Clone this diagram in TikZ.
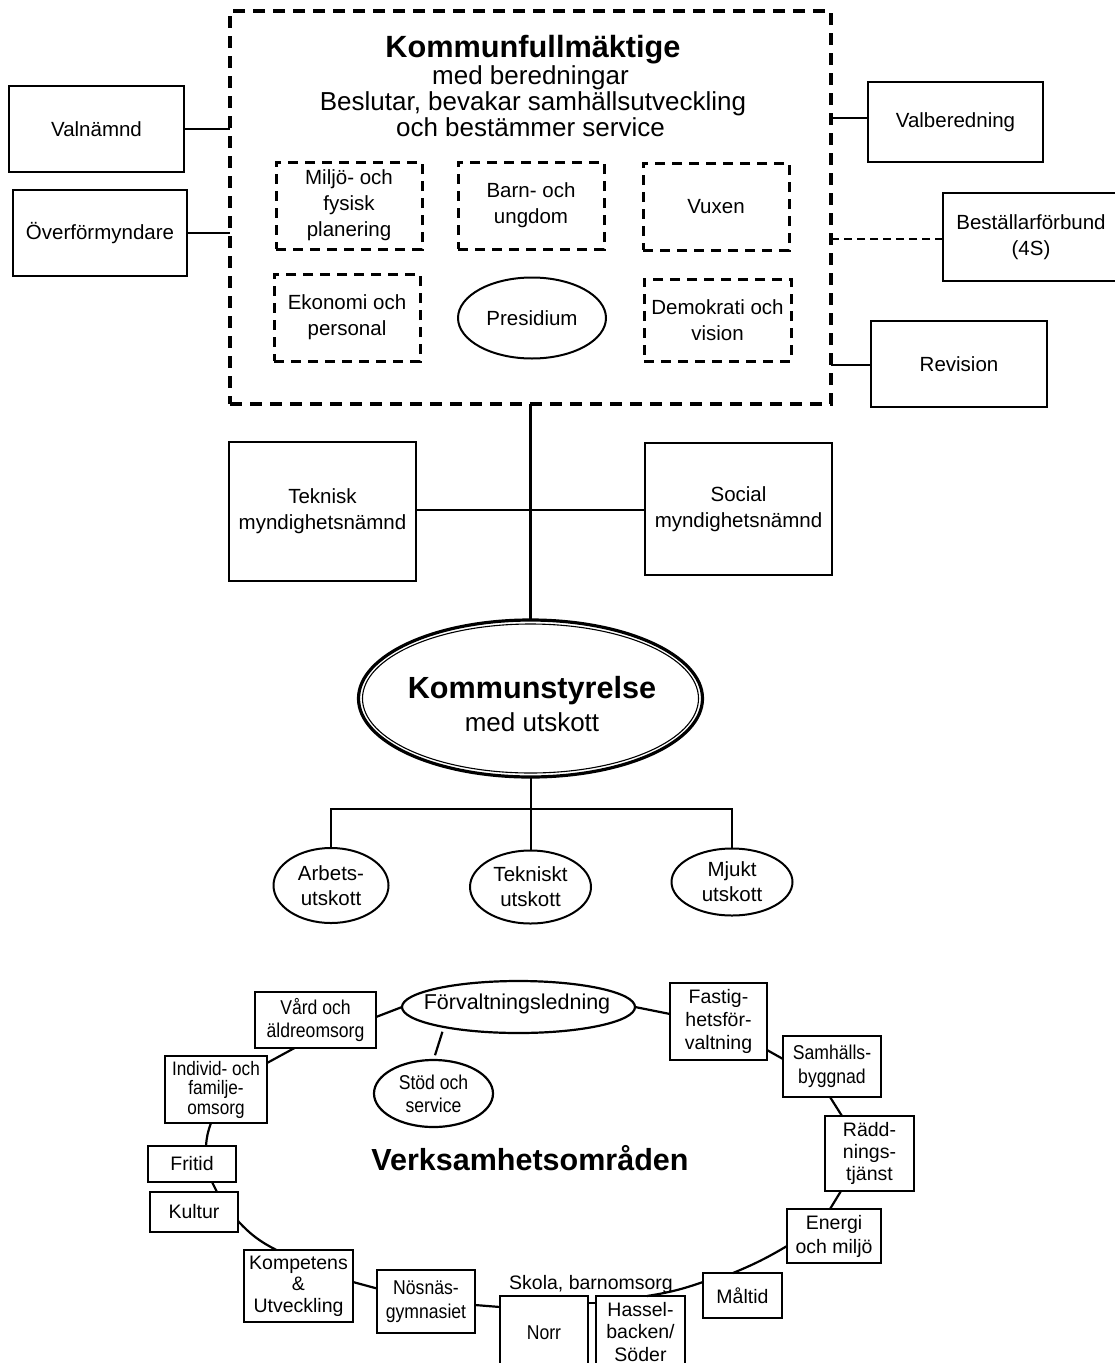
\documentclass[tikz,border=0pt]{standalone}
\usepackage{fontspec}
\setmainfont{Liberation Sans}
\newfontfamily\narrowfont[FakeStretch=0.88]{Liberation Sans}
\usetikzlibrary{shapes.geometric,calc}
\newcommand\myfs[2]{\fontsize{#1}{#2}\selectfont}
\begin{document}
\begin{tikzpicture}[x=1pt,y=-1pt,
  every node/.style={inner sep=0pt, outer sep=0pt},
  box/.style={draw, line width=2pt, rectangle, align=center, font=\myfs{20.5}{26}},
  dbox/.style={draw, line width=3pt, dash pattern=on 10pt off 7pt, rectangle, align=center, font=\myfs{20.5}{26}},
  oval/.style={draw, line width=2pt, ellipse, align=center, font=\myfs{20.5}{25}},
  sbox/.style={draw, line width=2.2pt, rectangle, align=center, font=\myfs{19.5}{22.5}},
  nbox/.style={draw, line width=2.2pt, rectangle, align=center, font=\narrowfont\myfs{20}{23}},
  conn/.style={line width=2.2pt},
  bigdash/.style={draw, line width=4pt, dash pattern=on 12pt off 8pt},
]
\fill[white] (0,0) rectangle (1115,1363);
\useasboundingbox (0,0) rectangle (1115,1363);

% ---------- Kommunfullmaktige ----------
\node[bigdash, rectangle, minimum width=601pt, minimum height=393pt] (main) at (530.5,207.5) {};
\node[anchor=mid, font=\myfs{30.7}{30}\bfseries] (kt1) at (533,55) {Kommunfullmäktige};
\node[anchor=mid, font=\myfs{26}{27}] (kt2) at (530.5,82) {med beredningar};
\node[anchor=mid, font=\myfs{26}{27}] (kt3) at (533,108) {Beslutar, bevakar samhällsutveckling};
\node[anchor=mid, font=\myfs{26}{27}] (kt4) at (530.5,134) {och bestämmer service};

\node[dbox, minimum width=146pt, minimum height=87pt] (miljo) at (349,205.5) {Miljö- och\\fysisk\\planering};
\node[dbox, minimum width=146pt, minimum height=87pt] (barn) at (531,205.5) {Barn- och\\ungdom};
\node[dbox, minimum width=146pt, minimum height=87pt] (vuxen) at (716,206.5) {Vuxen};
\node[dbox, minimum width=146pt, minimum height=87pt] (ekon) at (347,317.5) {Ekonomi och\\personal};
\node[oval, minimum width=148pt, minimum height=81pt] (pres) at (532,318) {Presidium};
\node[dbox, minimum width=147pt, minimum height=82pt] (demo) at (717.5,320) {Demokrati och\\vision};

% side boxes
\node[box, minimum width=175pt, minimum height=86pt] (valn) at (96.5,129) {Valnämnd};
\node[box, minimum width=174pt, minimum height=86pt] (overf) at (100,233) {Överförmyndare};
\node[box, minimum width=175pt, minimum height=80pt] (valb) at (955.5,122) {Valberedning};
\node[box, minimum width=176pt, minimum height=88pt] (best) at (1031,237) {Beställarförbund\\(4S)};
\node[box, minimum width=176pt, minimum height=86pt] (rev) at (959,364) {Revision};

\draw[conn] (valn.east) -- (valn.east -| main.west);
\draw[conn] (overf.east) -- (overf.east -| main.west);
\draw[conn] ([yshift=4pt]valb.west) -- ([yshift=4pt]valb.west -| main.east);
\draw[conn, dash pattern=on 8pt off 5pt] ([yshift=-2pt]best.west) -- ([yshift=-2pt]best.west -| main.east);
\draw[conn] ([yshift=-1pt]rev.west) -- ([yshift=-1pt]rev.west -| main.east);

% ---------- myndighetsnamnder ----------
\node[box, minimum width=187pt, minimum height=139pt] (tekn) at (322.5,511) {Teknisk\\myndighetsnämnd};
\node[box, minimum width=187pt, minimum height=132pt] (soc) at (738.5,509) {Social\\myndighetsnämnd};

% ---------- Kommunstyrelse ----------
\node[draw, ellipse, line width=3.2pt, minimum width=344pt, minimum height=157pt] (ks) at (530.5,698.5) {};
\draw[line width=1.1pt] (ks.center) ellipse [x radius=168pt, y radius=74.5pt];
\node[anchor=mid, font=\myfs{30.6}{30}\bfseries] (kst1) at (532,696) {Kommunstyrelse};
\node[anchor=mid, font=\myfs{26}{27}] (kst2) at (532,729) {med utskott};

\draw[conn] (main.south) -- (ks.north);
\draw[conn] ([yshift=1pt]tekn.east) -- ([yshift=1pt]tekn.east -| soc.west);

\node[oval, minimum width=115pt, minimum height=75pt] (arb) at (331,885.5) {Arbets-\\utskott};
\node[oval, minimum width=121pt, minimum height=73pt] (tku) at (530.5,887) {Tekniskt\\utskott};
\node[oval, minimum width=121pt, minimum height=67pt] (mju) at (732,882) {Mjukt\\utskott};
\coordinate (bus) at (530.5,809);
\draw[line width=2pt] (ks.south) -- (tku.north);
\draw[line width=2pt] (arb.north) |- (bus) -| (mju.north);

% ---------- Verksamhetsomraden ----------
\node[anchor=mid, font=\myfs{30.5}{30}\bfseries] (vo) at (530,1168) {Verksamhetsområden};

\node[draw, line width=2.2pt, ellipse, minimum width=233pt, minimum height=52pt] (forv) at (518.5,1007) {};
\node[anchor=mid, font=\myfs{21.5}{22}] (forvt) at (517,1007) {Förvaltningsledning};
\node[draw, line width=2.2pt, ellipse, minimum width=119pt, minimum height=67pt, align=center, font=\narrowfont\myfs{20}{23}] (stod) at (433.5,1093.5) {Stöd och\\service};

\node[nbox, minimum width=121pt, minimum height=56pt] (vard) at (315.5,1020) {Vård och\\äldreomsorg};
\node[nbox, minimum width=102pt, minimum height=67pt, font=\narrowfont\myfs{19.5}{19.5}] (indiv) at (216,1089.5) {Individ- och\\familje-\\omsorg};
\node[sbox, minimum width=88pt, minimum height=36pt] (fritid) at (192,1164) {Fritid};
\node[sbox, minimum width=88pt, minimum height=40pt] (kultur) at (194,1212) {Kultur};
\node[sbox, minimum width=109pt, minimum height=72pt, font=\myfs{19.5}{21.5}] (komp) at (298.5,1286) {Kompetens\\\&\\Utveckling};
\node[nbox, minimum width=98pt, minimum height=63pt, font=\narrowfont\myfs{20}{24}] (nosnas) at (426,1301.5) {Nösnäs-\\gymnasiet};
\node[nbox, minimum width=88pt, minimum height=74pt] (norr) at (544,1333) {Norr};
\node[sbox, minimum width=89pt, minimum height=72pt] (hassel) at (640.5,1332) {Hassel-\\backen/\\Söder};
\node[anchor=mid, font=\myfs{19.5}{20}] (skola) at (591,1287) {Skola, barnomsorg};
\node[sbox, minimum width=79pt, minimum height=45pt] (maltid) at (742.5,1295.5) {Måltid};
\node[sbox, minimum width=94pt, minimum height=54pt, font=\myfs{19.5}{24}] (energi) at (834,1236) {Energi\\och miljö};
\node[sbox, minimum width=89pt, minimum height=75pt, font=\myfs{19.5}{22}] (radd) at (869.5,1153.5) {Rädd-\\nings-\\tjänst};
\node[nbox, minimum width=98pt, minimum height=61pt, font=\narrowfont\myfs{20}{24}] (samh) at (832,1066.5) {Samhälls-\\byggnad};
\node[sbox, minimum width=97pt, minimum height=77pt, font=\myfs{19.5}{23}] (fastig) at (718.5,1021.5) {Fastig-\\hetsför-\\valtning};

% ring connectors
\draw[conn, shorten <=5pt, shorten >=5pt] (forv.195) -- (stod.north);
\draw[conn] ([yshift=3pt]vard.east) -- (forv.west);
\draw[conn] ([xshift=-21pt]vard.south) -- ([yshift=-7pt]indiv.north east);
\draw[conn] ([xshift=-5pt]indiv.south) to[bend right=8] ([xshift=14pt]fritid.north);
\draw[conn] ([xshift=20pt]fritid.south) -- ([xshift=23pt]kultur.north);
\draw[conn] ([yshift=-9pt]kultur.east) to[bend right=10] ([xshift=-22pt]komp.north);
\draw[conn] ([yshift=4pt]komp.east) -- ([yshift=13pt]nosnas.west);
\draw[conn] ([yshift=-3.5pt]nosnas.east) -- ([yshift=26pt]norr.west);
\draw[conn] ([yshift=30pt]norr.east) -- ([yshift=29pt]hassel.west);
\draw[conn] ([xshift=6.5pt]hassel.north) to[bend right=5] ([yshift=13.5pt]maltid.west);
\draw[conn] ([xshift=-9.5pt]maltid.north) to[bend right=4] ([yshift=-10pt]energi.west);
\draw[conn] ([xshift=-4pt]energi.north) -- ([xshift=-28.5pt]radd.south);
\draw[conn] ([xshift=-27.5pt]radd.north) -- ([xshift=-2pt]samh.south);
\draw[conn] ([yshift=7.5pt]samh.west) -- ([yshift=-28.5pt]fastig.east);
\draw[conn] ([yshift=7.5pt]fastig.west) -- (forv.east);
\end{tikzpicture}
\end{document}
